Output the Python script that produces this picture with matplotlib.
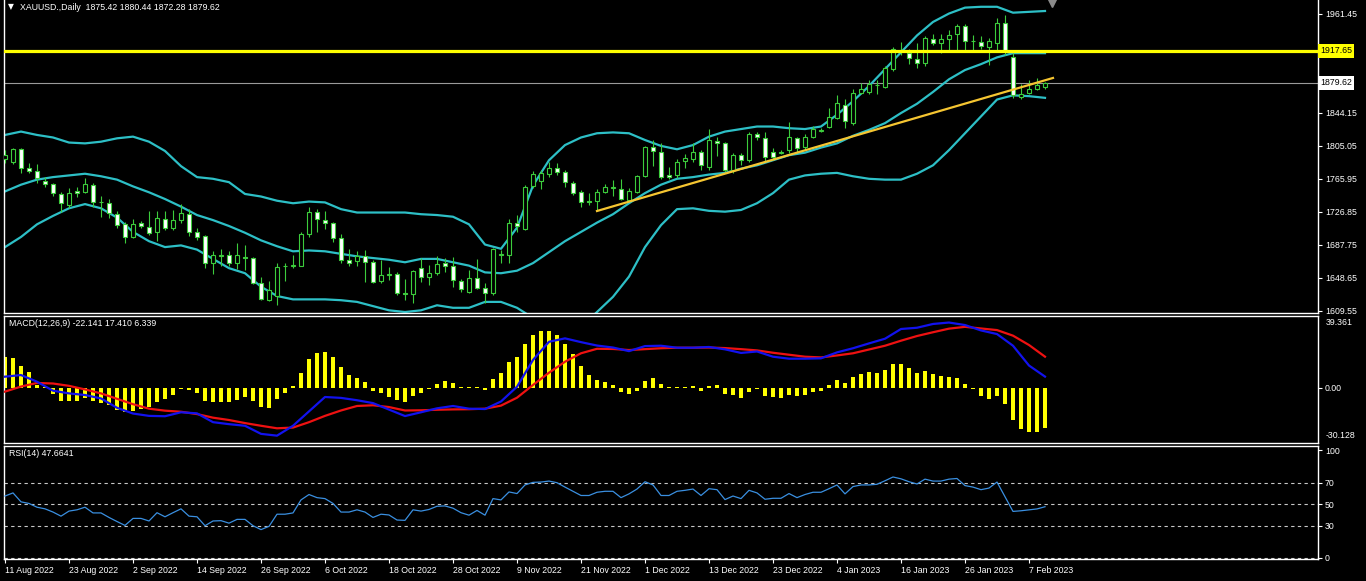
import matplotlib.pyplot as plt

plt.rcParams['font.family'] = ['Liberation Sans', 'DejaVu Sans']
plt.rcParams['font.size'] = 6.3

# XAUUSD daily bars, 11 Aug 2022 .. 9 Feb 2023
opens = [1789, 1786, 1801, 1779, 1775, 1763, 1760, 1748, 1735, 1751,
         1750, 1759, 1738, 1737, 1724, 1712, 1697, 1713, 1709, 1703,
         1718, 1708, 1717, 1724, 1703, 1698, 1666, 1675, 1676, 1666,
         1673, 1672, 1643, 1622, 1627, 1662, 1662, 1663, 1700, 1727,
         1717, 1713, 1696, 1670, 1668, 1674, 1667, 1645, 1652, 1653,
         1630, 1629, 1660, 1649, 1654, 1666, 1663, 1645, 1632, 1648,
         1636, 1630, 1676, 1676, 1713, 1707, 1757, 1763, 1772, 1779,
         1774, 1761, 1750, 1740, 1740, 1750, 1755, 1754, 1741, 1750,
         1769, 1804, 1798, 1771, 1771, 1787, 1789, 1798, 1780, 1811,
         1808, 1776, 1794, 1788, 1819, 1814, 1798, 1797, 1800, 1814,
         1804, 1815, 1823, 1827, 1838, 1854, 1832, 1868, 1869, 1877,
         1875, 1896, 1918, 1915, 1908, 1903, 1932, 1927, 1932, 1938,
         1947, 1929, 1928, 1922, 1927, 1951, 1910, 1863, 1868, 1873,
         1875.42]
highs = [1800, 1803, 1802, 1785, 1784, 1768, 1761, 1750, 1755, 1756,
         1767, 1761, 1745, 1742, 1728, 1715, 1718, 1716, 1728, 1728,
         1728, 1729, 1736, 1730, 1708, 1699, 1680, 1683, 1680, 1690,
         1687, 1673, 1650, 1645, 1666, 1666, 1676, 1703, 1732, 1730,
         1728, 1715, 1700, 1683, 1680, 1682, 1670, 1670, 1661, 1655,
         1647, 1658, 1672, 1664, 1674, 1672, 1673, 1647, 1658, 1671,
         1642, 1684, 1681, 1718, 1723, 1759, 1775, 1776, 1786, 1785,
         1776, 1763, 1753, 1749, 1754, 1760, 1765, 1766, 1755, 1771,
         1805, 1812, 1809, 1780, 1790, 1795, 1809, 1800, 1825, 1816,
         1810, 1797, 1797, 1822, 1822, 1821, 1802, 1800, 1833, 1815,
         1819, 1829, 1826, 1850, 1865, 1861, 1872, 1880, 1883, 1883,
         1900, 1922, 1928, 1920, 1927, 1935, 1938, 1938, 1942, 1949,
         1949, 1936, 1935, 1933, 1957, 1960, 1915, 1878, 1883, 1886,
         1880.44]
lows = [1785, 1784, 1773, 1773, 1761, 1756, 1745, 1727, 1731, 1744,
        1749, 1732, 1721, 1719, 1708, 1690, 1696, 1708, 1699, 1692,
        1705, 1705, 1714, 1698, 1694, 1660, 1653, 1662, 1662, 1659,
        1658, 1641, 1622, 1621, 1616, 1645, 1660, 1662, 1697, 1703,
        1706, 1691, 1666, 1663, 1662, 1644, 1642, 1643, 1646, 1628,
        1622, 1619, 1644, 1640, 1652, 1655, 1638, 1632, 1631, 1635,
        1619, 1628, 1666, 1666, 1703, 1705, 1755, 1754, 1768, 1771,
        1756, 1747, 1733, 1735, 1727.8, 1749, 1745, 1741, 1740, 1749,
        1768, 1781, 1766, 1766, 1767, 1779, 1786, 1777, 1777, 1793,
        1774, 1773, 1782, 1786, 1812, 1787, 1788, 1795, 1797, 1798,
        1800, 1814, 1822, 1826, 1837, 1826, 1830, 1866, 1867, 1867,
        1874, 1894, 1913, 1902, 1897, 1900, 1925, 1915, 1918, 1918,
        1918, 1918, 1920, 1901, 1918, 1913, 1862, 1861, 1867, 1871,
        1872.28]
closes = [1794, 1801, 1779, 1775, 1767, 1760, 1749, 1737, 1749, 1749,
          1760, 1738, 1739, 1725, 1711, 1697, 1712, 1710, 1702, 1720,
          1708, 1717, 1726, 1703, 1697, 1666, 1676, 1676, 1666, 1676,
          1672, 1643, 1624, 1634, 1661, 1663, 1664, 1700, 1727, 1718,
          1713, 1696, 1670, 1666, 1674, 1667, 1644, 1652, 1653, 1630,
          1629, 1657, 1649, 1654, 1665, 1663, 1646, 1635, 1648, 1636,
          1630, 1683, 1677, 1713, 1710, 1756, 1772, 1773, 1779, 1774,
          1762, 1749, 1738, 1738, 1750, 1756, 1756, 1742, 1752, 1769,
          1804, 1799, 1768, 1768, 1786, 1791, 1798, 1782, 1812, 1808,
          1776, 1794, 1788, 1819, 1815, 1792, 1792, 1798, 1815, 1803,
          1815, 1825, 1824, 1839, 1856, 1835, 1868, 1872, 1879, 1877.5,
          1897, 1920, 1918.5, 1909, 1903, 1933, 1927, 1932, 1937, 1947,
          1930, 1929.5, 1924, 1929, 1951, 1917, 1865, 1867, 1873, 1877,
          1879.62]

# Bollinger bands, read every second bar
bb_upper = [1818, 1822, 1818, 1815, 1809, 1808, 1810, 1814, 1816, 1810,
            1799, 1781, 1768, 1766, 1762, 1748, 1745, 1740, 1737, 1739,
            1738, 1730, 1726, 1726, 1726, 1726, 1724, 1723, 1721, 1712,
            1688, 1683, 1708, 1758, 1788, 1806, 1815, 1820, 1821, 1820,
            1812, 1805, 1801, 1806, 1816, 1822, 1825, 1828, 1828, 1826,
            1825, 1828, 1842, 1858, 1876, 1896, 1916, 1936, 1952, 1962,
            1969, 1970, 1970, 1963, 1964, 1965]
bb_middle = [1751, 1759, 1765, 1768, 1770, 1772, 1769, 1765, 1757, 1750,
             1742, 1733, 1723, 1717, 1710, 1702, 1693, 1686, 1680, 1681,
             1680, 1677, 1674, 1672, 1670, 1667, 1671, 1671, 1667, 1663,
             1655, 1654, 1657, 1666, 1679, 1692, 1703, 1714, 1724, 1737,
             1749, 1759, 1766, 1768, 1771, 1773, 1778, 1782, 1788, 1794,
             1797, 1803, 1808, 1817, 1824, 1832, 1844, 1855, 1869, 1884,
             1895, 1902, 1910, 1915, 1915, 1915]
bb_lower = [1685, 1697, 1712, 1722, 1731, 1736, 1731, 1720, 1703, 1692,
            1685, 1687, 1682, 1671, 1660, 1654, 1638, 1627, 1623, 1623,
            1623, 1622, 1620, 1615, 1610, 1608, 1610, 1616, 1613, 1613,
            1620, 1620, 1613, 1601, 1590, 1585, 1590, 1608, 1626, 1650,
            1685, 1711, 1730, 1731, 1728, 1727, 1729, 1737, 1749, 1765,
            1770, 1772, 1773, 1769, 1766, 1765, 1765, 1772, 1782, 1800,
            1820, 1840, 1860, 1865, 1864, 1862]

# hand-drawn levels
resistance = 1917.65
last_price = 1879.62
trend_bars = [74, 131]
trend_prices = [1727.8, 1885.6]

# MACD panel
macd_hist = [17.4, 16.9, 12.2, 9.1, 1.7, 0.5, -3.3, -7.0, -7.0, -7.0,
             -5.7, -7.0, -8.5, -9.5, -12.2, -13.2, -12.6, -11.9, -10.4, -7.6,
             -6.3, -3.9, -0.7, -1.1, -2.6, -7.0, -7.6, -7.6, -7.6, -6.7,
             -4.8, -7.0, -10.7, -11.3, -6.1, -2.6, 1.1, 8.2, 16.1, 19.3,
             20.2, 17.4, 11.5, 7.2, 5.6, 3.5, -1.5, -3.0, -5.0, -6.7,
             -8.0, -4.4, -2.6, -0.6, 2.0, 3.9, 2.6, 0.7, 0.7, 0.6,
             -1.3, 5.0, 8.3, 14.6, 17.2, 24.5, 29.5, 31.7, 31.7, 29.5,
             24.5, 18.7, 12.2, 7.2, 4.4, 3.2, 1.7, -2.0, -3.3, -1.5,
             3.9, 5.7, 2.2, 0.4, 0.6, 0.6, 1.1, -1.5, 1.3, 1.5,
             -3.3, -3.9, -5.4, -2.0, -0.6, -4.3, -4.8, -5.4, -3.9, -4.3,
             -3.9, -2.0, -1.5, 1.7, 4.4, 2.6, 5.9, 7.8, 8.9, 8.5,
             10.0, 13.3, 13.3, 11.3, 8.3, 9.4, 7.6, 6.5, 5.9, 5.6,
             2.2, -0.7, -4.4, -5.9, -4.4, -8.9, -17.8, -22.8, -24.3, -24.3,
             -22.141]
macd_blue = [6.3, 7.2, 3.5, -1.5, -3.0, -3.9, -5.8, -11.0, -14.2, -15.5,
             -15.7, -13.5, -14.1, -19.0, -20.1, -21.0, -25.5, -26.5, -21.0, -13.0,
             -5.0, -5.5, -6.8, -8.4, -12.0, -15.6, -13.5, -11.3, -10.0, -11.5,
             -11.7, -7.5, 0.7, 15.6, 25.7, 27.6, 25.5, 23.6, 22.5, 20.5,
             23.3, 23.5, 22.4, 22.4, 22.8, 21.5, 19.5, 20.3, 17.4, 16.3,
             16.3, 16.5, 19.8, 22.1, 24.8, 27.4, 32.8, 33.5, 35.6, 36.4,
             35.0, 32.0, 30.0, 23.5, 12.5, 6.339]
macd_red = [-2.0, 0.8, 2.8, 2.5, 1.2, -0.8, -3.0, -6.0, -9.0, -11.5,
            -12.6, -13.2, -14.5, -16.5, -17.8, -19.5, -21.0, -22.4, -22.0, -19.0,
            -15.5, -12.5, -10.0, -9.6, -10.6, -12.5, -12.4, -12.1, -11.9, -11.8,
            -11.5, -9.8, -5.4, 1.7, 8.5, 14.6, 19.3, 21.8, 21.7, 21.1,
            21.6, 22.1, 22.4, 22.4, 22.5, 22.2, 21.6, 20.9, 19.6, 18.5,
            17.4, 17.0, 18.1, 19.3, 21.4, 23.5, 26.3, 28.9, 31.0, 33.0,
            34.0, 33.1, 32.2, 29.1, 23.9, 17.41]
macd_max = 39.361
macd_min = -30.128

# RSI(14)
rsi = [57.6, 60.5, 52.2, 50.7, 47.2, 45.7, 42.7, 38.9, 43.6, 44.8,
       47.2, 41.9, 41.9, 37.7, 33.9, 30.3, 36.8, 36.8, 34.4, 42.1,
       38.3, 42.1, 45.7, 38.9, 38.3, 30.0, 34.4, 34.7, 32.4, 35.9,
       35.9, 30.0, 26.4, 29.4, 40.7, 40.7, 41.9, 54.0, 59.0, 56.1,
       55.2, 50.7, 42.7, 42.7, 44.8, 42.7, 37.7, 40.7, 40.0, 35.3,
       35.0, 44.8, 43.6, 45.1, 48.1, 48.4, 46.3, 42.1, 39.8, 44.2,
       39.8, 55.2, 54.0, 61.4, 59.9, 67.9, 70.3, 70.6, 71.5, 70.0,
       65.9, 62.0, 58.1, 58.1, 61.1, 62.0, 62.0, 56.1, 59.6, 64.1,
       70.9, 67.9, 58.1, 58.1, 62.0, 62.9, 64.1, 58.1, 64.4, 63.5,
       54.3, 57.6, 55.2, 62.9, 60.5, 54.6, 55.5, 55.5, 59.9, 56.1,
       59.0, 61.1, 61.1, 64.4, 67.9, 59.6, 66.4, 67.9, 67.9, 68.5,
       71.8, 75.3, 73.6, 70.9, 68.8, 73.3, 71.5, 71.5, 73.3, 73.9,
       67.3, 65.9, 63.5, 65.0, 70.6, 57.0, 43.3, 43.9, 44.8, 45.6,
       47.6641]
rsi_levels = [70, 50, 30, 0]

date_labels = ['11 Aug 2022', '23 Aug 2022', '2 Sep 2022', '14 Sep 2022', '26 Sep 2022',
               '6 Oct 2022', '18 Oct 2022', '28 Oct 2022', '9 Nov 2022', '21 Nov 2022',
               '1 Dec 2022', '13 Dec 2022', '23 Dec 2022', '4 Jan 2023', '16 Jan 2023',
               '26 Jan 2023', '7 Feb 2023']
price_ticks = [1961.45, 1922.35, 1883.25, 1844.15, 1805.05, 1765.95, 1726.85,
               1687.75, 1648.65, 1609.55]

bars = list(range(len(closes)))
band_bars = bars[::2]
date_bars = bars[::8]

W, H = 1366, 581
FS = 6.3
fig = plt.figure(figsize=(W / 100, H / 100), dpi=100, facecolor='black')


def panel(top, bottom):
    ax = fig.add_axes([4 / W, 1 - bottom / H, 1314 / W, (bottom - top) / H])
    ax.set_facecolor('black')
    for s in ax.spines.values():
        s.set_color('white')
        s.set_linewidth(1)
    ax.set_xlim(-0.125, 164.125)
    ax.yaxis.tick_right()
    ax.tick_params(colors='white', direction='out', length=3, width=0.8, pad=2, labelsize=FS)
    return ax


ax = panel(0, 313)
ax_macd = panel(316, 443)
ax_rsi = panel(446, 559)

# --- price panel ---
green = '#3ccc3c'
ax.vlines(bars, lows, highs, color=green, lw=0.8, zorder=3)
bodies = [c - o for o, c in zip(opens, closes)]
fills = ['black' if b > 0 else 'white' for b in bodies]
ax.bar(bars, [abs(b) for b in bodies], bottom=[min(o, c) for o, c in zip(opens, closes)],
       width=0.62, color=fills, edgecolor=green, linewidth=0.8, zorder=4)

band_color = '#2dbfc6'
for band in (bb_upper, bb_middle, bb_lower):
    ax.plot(band_bars, band, color=band_color, lw=1.6, zorder=2)

ax.axhline(resistance, color='#ffff00', lw=2.3, zorder=5)
ax.axhline(last_price, color='#9a9a9a', lw=0.8, zorder=1)
ax.plot(trend_bars, trend_prices, color='#f5c531', lw=1.6, zorder=5)
ax.plot(130.9, 1976.8, marker='v', ms=8, color='#8a8a8a', zorder=6)

ax.set_ylim(1606.83, 1978.05)
ax.set_yticks(price_ticks)
ax.set_yticklabels(['' if t in (1922.35, 1883.25) else f'{t:.2f}' for t in price_ticks])
ax.set_xticks([])
ax.spines['top'].set_visible(False)

yt = ax.get_yaxis_transform()
ax.text(1.0015, resistance, f'{resistance:.2f}', transform=yt, ha='left', va='center',
        color='black', fontsize=FS, clip_on=False,
        bbox=dict(boxstyle='square,pad=0.25', fc='#ffff00', ec='none'))
ax.text(1.0015, last_price, f'{last_price:.2f}', transform=yt, ha='left', va='center',
        color='black', fontsize=FS, clip_on=False,
        bbox=dict(boxstyle='square,pad=0.25', fc='white', ec='none'))

# --- MACD panel ---
ax_macd.bar(bars, macd_hist, width=0.6, color='#ffff00', zorder=2)
ax_macd.plot(band_bars, macd_red, color='#ee1111', lw=1.6, zorder=3)
ax_macd.plot(band_bars, macd_blue, color='#1212ee', lw=1.6, zorder=4)
ax_macd.set_ylim(-30.58, 40.03)
ax_macd.set_yticks([0])
ax_macd.set_yticklabels(['0.00'])
ax_macd.set_xticks([])
ax_macd.text(1.006, 0.985, f'{macd_max:.3f}', transform=ax_macd.transAxes, ha='left',
             va='top', color='white', fontsize=FS, clip_on=False)
ax_macd.text(1.006, 0.02, f'{macd_min:.3f}', transform=ax_macd.transAxes, ha='left',
             va='bottom', color='white', fontsize=FS, clip_on=False)

# --- RSI panel ---
for lvl in rsi_levels:
    ax_rsi.axhline(lvl, color='#c8c8c8', lw=0.8, dashes=(3, 3), zorder=1)
ax_rsi.plot(bars, rsi, color='#3a8fe0', lw=0.9, zorder=3)
ax_rsi.set_ylim(-0.93, 104.1)
ax_rsi.set_yticks([0, 30, 50, 70, 100])
ax_rsi.set_yticklabels(['0', '30', '50', '70', '100'])
ax_rsi.set_xticks(date_bars)
ax_rsi.set_xticklabels(date_labels)
for lbl in ax_rsi.get_xticklabels():
    lbl.set_horizontalalignment('left')

# --- indicator captions ---
fig.text(8 / W, 1 - 7 / H, '\u25bc', fontsize=5.5, color='white', va='center', family='DejaVu Sans')
fig.text(20 / W, 1 - 7 / H, 'XAUUSD.,Daily  1875.42 1880.44 1872.28 1879.62',
         color='white', va='center', fontsize=FS)
fig.text(9 / W, 1 - 324 / H, 'MACD(12,26,9) -22.141 17.410 6.339', color='white',
         va='center', fontsize=FS)
fig.text(9 / W, 1 - 454 / H, 'RSI(14) 47.6641', color='white', va='center', fontsize=FS)

fig.savefig('out.png', dpi=100, facecolor='black')
